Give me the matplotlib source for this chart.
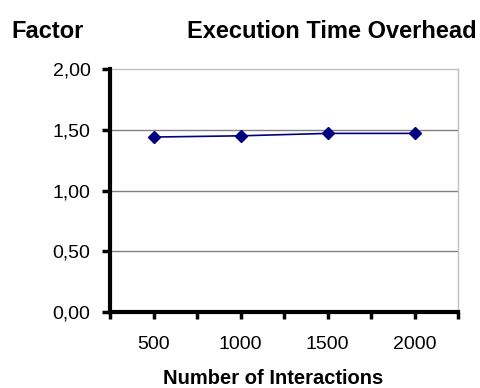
import matplotlib
matplotlib.use("Agg")
import matplotlib.pyplot as plt
from matplotlib.ticker import FixedLocator

categories = ["500", "1000", "1500", "2000"]
values = [1.44, 1.45, 1.47, 1.47]
y_ticks = [0.0, 0.5, 1.0, 1.5, 2.0]
y_labels = ["0,00", "0,50", "1,00", "1,50", "2,00"]

plt.rcParams['font.family'] = ['Liberation Sans', 'DejaVu Sans']

W, H = 480, 388
fig = plt.figure(figsize=(W/100, H/100), dpi=100)
ax = fig.add_axes([110/W, 1-312/H, (458-110)/W, (312-69)/H])

x = list(range(len(categories)))
ax.plot(x, values, color='#000080', lw=1.2, marker='D', markersize=6,
        markerfacecolor='#000080', markeredgecolor='#000080', zorder=3, clip_on=False)

ax.set_xlim(-0.5, len(categories)-0.5)
ax.set_ylim(0, 2.0)

ax.set_yticks(y_ticks)
ax.set_yticklabels(y_labels, fontsize=14)
ax.set_xticks(x)
ax.set_xticklabels(categories, fontsize=14)
ax.xaxis.set_minor_locator(FixedLocator([i - 0.5 for i in range(len(categories)+1)]))

ax.tick_params(axis='x', which='both', direction='out', length=5, width=2.5, color='black', pad=12)
ax.tick_params(axis='y', direction='out', length=6, width=2.5, color='black', pad=8)

for yv in y_ticks[1:-1]:
    ax.axhline(yv, color='#808080', lw=1, zorder=1)

ax.spines['left'].set_linewidth(3)
ax.spines['bottom'].set_linewidth(3)
ax.spines['top'].set_color('#c0c0c0')
ax.spines['top'].set_linewidth(1)
ax.spines['right'].set_color('#c0c0c0')
ax.spines['right'].set_linewidth(1)
ax.spines['left'].set_zorder(4)
ax.spines['bottom'].set_zorder(4)

fig.text(11/W, 1-32/H, "Factor", fontsize=17, fontweight='bold', va='center', ha='left')
fig.text(477/W, 1-32/H, "Execution Time Overhead", fontsize=17, fontweight='bold', va='center', ha='right')
fig.text(273/W, 1-378/H, "Number of Interactions", fontsize=14.5, fontweight='bold', va='center', ha='center')

fig.savefig("out.png", dpi=100)
